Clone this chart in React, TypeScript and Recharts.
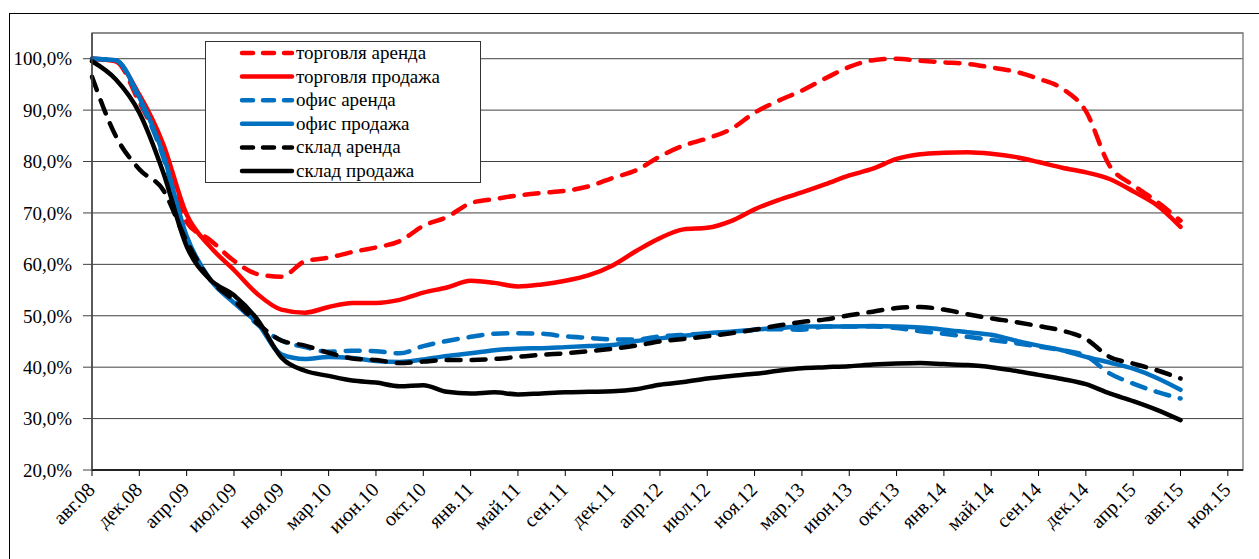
import { LineChart, Line, XAxis, YAxis, CartesianGrid, ReferenceArea } from 'recharts';

// tick labels under the x axis, one per major tick
const tickLabels = [
  'авг.08', 'дек.08', 'апр.09', 'июл.09', 'ноя.09', 'мар.10', 'июн.10', 'окт.10', 'янв.11',
  'май.11', 'сен.11', 'дек.11', 'апр.12', 'июл.12', 'ноя.12', 'мар.13', 'июн.13', 'окт.13',
  'янв.14', 'май.14', 'сен.14', 'дек.14', 'апр.15', 'авг.15', 'ноя.15',
];

const yTicks = [20, 30, 40, 50, 60, 70, 80, 90, 100];

// values in %, read every half tick from авг.08 to авг.15
const tradeRent = [
  100, 99.5, 91.5, 82, 68.2, 64.7, 60.7, 58.1, 57.6, 60.6, 61.3, 62.4, 63.3, 64.5, 67.5, 69.2,
  71.9, 72.7, 73.4, 73.9, 74.3, 75.2, 76.8, 78.3, 81, 83.1, 84.5, 86.3, 89.5, 91.8, 93.8, 96.2,
  98.4, 99.7, 100, 99.6, 99.3, 99, 98.3, 97.5, 96.1, 94.2, 89.8, 79.2, 75.4, 72.2, 68.5,
];
const tradeSale = [
  100, 99.5, 93, 83.5, 69.7, 63.4, 58.9, 54.2, 51.2, 50.6, 51.7, 52.5, 52.5, 53.1, 54.5, 55.5,
  56.8, 56.4, 55.7, 56.1, 56.8, 57.9, 59.8, 62.6, 65.1, 66.8, 67.1, 68.4, 70.7, 72.5, 74, 75.6,
  77.3, 78.6, 80.5, 81.4, 81.7, 81.8, 81.5, 80.9, 79.9, 78.8, 77.9, 76.6, 74.2, 71.5, 67.3,
];
const officeRent = [
  100, 99.7, 92, 81, 65, 57, 52.8, 48.3, 45.2, 43.9, 43, 43.2, 43.1, 42.7, 44.1, 45.1,
  45.9, 46.5, 46.6, 46.5, 46, 45.7, 45.4, 45.4, 46, 46.3, 46.5, 46.7, 47.3, 47.4, 47.3, 47.9,
  47.9, 47.9, 47.6, 47, 46.5, 45.9, 45.3, 44.7, 44, 43.3, 42.2, 38.8, 36.8, 35.2, 33.9,
];
const officeSale = [
  100, 99.7, 92.5, 81.5, 65.5, 57, 52.5, 48.5, 42.5, 41.6, 42, 41.8, 41.2, 41, 41.5, 42.2,
  42.7, 43.3, 43.6, 43.7, 43.9, 44.1, 44.3, 45.1, 45.6, 46.1, 46.6, 46.9, 47.3, 47.6, 47.9, 47.9,
  47.9, 48, 47.9, 47.7, 47.3, 46.8, 46.3, 45.2, 44.2, 43.3, 42, 40.9, 39.7, 37.9, 35.6,
];
const storeRent = [
  96.5, 85, 78.5, 74.5, 64.5, 57, 53, 48.5, 45.2, 44.2, 42.8, 41.7, 41.4, 40.8, 41.1, 41.4,
  41.4, 41.6, 42, 42.4, 42.7, 43.1, 43.6, 44.2, 45, 45.5, 46, 46.6, 47.3, 48.1, 48.8, 49.3,
  50.1, 50.8, 51.5, 51.7, 51.2, 50.3, 49.5, 48.8, 48, 47.1, 45.5, 42, 40.7, 39.4, 37.8,
];
const storeSale = [
  99.5, 96, 89.5, 78, 63.5, 57, 54, 49.2, 41.9, 39.3, 38.3, 37.4, 37, 36.3, 36.5, 35.2,
  34.9, 35.1, 34.7, 34.9, 35.1, 35.2, 35.3, 35.7, 36.6, 37.1, 37.8, 38.3, 38.7, 39.3, 39.8, 40,
  40.2, 40.5, 40.7, 40.8, 40.6, 40.4, 40, 39.3, 38.5, 37.7, 36.7, 34.9, 33.4, 31.7, 29.7,
];

const data = tradeRent.map((_, i) => ({
  t: i / 2,
  tradeRent: tradeRent[i],
  tradeSale: tradeSale[i],
  officeRent: officeRent[i],
  officeSale: officeSale[i],
  storeRent: storeRent[i],
  storeSale: storeSale[i],
}));

const series = [
  { key: 'tradeRent', name: 'торговля аренда', color: '#ff0000', dashed: true },
  { key: 'tradeSale', name: 'торговля продажа', color: '#ff0000', dashed: false },
  { key: 'officeRent', name: 'офис аренда', color: '#0070c0', dashed: true },
  { key: 'officeSale', name: 'офис продажа', color: '#0070c0', dashed: false },
  { key: 'storeRent', name: 'склад аренда', color: '#000000', dashed: true },
  { key: 'storeSale', name: 'склад продажа', color: '#000000', dashed: false },
];

const FONT = 'Liberation Serif, DejaVu Serif, serif';
const DASH = '14 11';

const XTick = (props: any) => {
  const { x, y, payload } = props;
  const ax = x + 4;
  const ay = y + 13;
  return (
    <text
      x={ax}
      y={ay}
      transform={`rotate(-45 ${ax} ${ay})`}
      textAnchor="end"
      style={{ fontFamily: FONT, fontSize: 20 }}
      fill="#000"
    >
      {tickLabels[payload.value]}
    </text>
  );
};

const fmtPct = (v: number) => v.toFixed(1).replace('.', ',') + '%';

const LegendBox = () => (
  <svg
    width={277}
    height={143}
    style={{ position: 'absolute', left: 205, top: 41 }}
  >
    <rect x={0.5} y={0.5} width={275} height={141} fill="#fff" stroke="#333" />
    {series.map((s, i) => {
      const cy = 12 + i * 23.6;
      return (
        <g key={s.key}>
          <line
            x1={37}
            x2={87}
            y1={cy}
            y2={cy}
            stroke={s.color}
            strokeWidth={4.5}
            strokeDasharray={s.dashed ? '11 10' : undefined}
            strokeLinecap="round"
          />
          <text x={91} y={cy + 6} style={{ fontFamily: FONT, fontSize: 19 }} fill="#000">
            {s.name}
          </text>
        </g>
      );
    })}
  </svg>
);

export default function App() {
  return (
    <div
      style={{
        position: 'absolute',
        left: 0,
        top: 0,
        width: 1259,
        height: 559,
        overflow: 'hidden',
        background: '#fff',
        fontFamily: FONT,
      }}
    >
      <div
        style={{
          position: 'absolute',
          left: 9,
          top: 13,
          width: 1400,
          height: 700,
          border: '1px solid #000',
          boxSizing: 'border-box',
        }}
      />
      <div style={{ position: 'absolute', left: 0, top: 0 }}>
        <LineChart
          width={1259}
          height={559}
          data={data}
          margin={{ top: 33, right: 16, left: 0, bottom: 0 }}
          style={{ fontFamily: FONT }}
        >
          <CartesianGrid horizontal vertical={false} stroke="#404040" strokeWidth={1} />
          <ReferenceArea
            x1={0}
            x2={24.32}
            y1={20}
            y2={105}
            fill="none"
            stroke="#868686"
            strokeWidth={1.5}
          />
          <XAxis
            dataKey="t"
            type="number"
            domain={[0, 24.32]}
            ticks={tickLabels.map((_, i) => i)}
            interval={0}
            height={89}
            tickSize={6}
            tickMargin={2}
            tick={<XTick />}
            axisLine={{ stroke: '#000', strokeWidth: 1.5 }}
            tickLine={{ stroke: '#000' }}
          />
          <YAxis
            type="number"
            domain={[20, 105]}
            ticks={yTicks}
            interval={0}
            width={92}
            tickSize={9}
            tickMargin={11}
            tickFormatter={fmtPct}
            tick={{ fontFamily: FONT, fontSize: 19, fill: '#000', style: { fontFamily: FONT } }}
            axisLine={{ stroke: '#404040', strokeWidth: 1.5 }}
            tickLine={{ stroke: '#404040' }}
          />
          {series.map((s) => (
            <Line
              key={s.key}
              dataKey={s.key}
              name={s.name}
              type="monotone"
              stroke={s.color}
              strokeWidth={4.5}
              strokeDasharray={s.dashed ? DASH : undefined}
              strokeLinecap="round"
              dot={false}
              activeDot={false}
              isAnimationActive={false}
            />
          ))}
        </LineChart>
      </div>
      <LegendBox />
    </div>
  );
}
